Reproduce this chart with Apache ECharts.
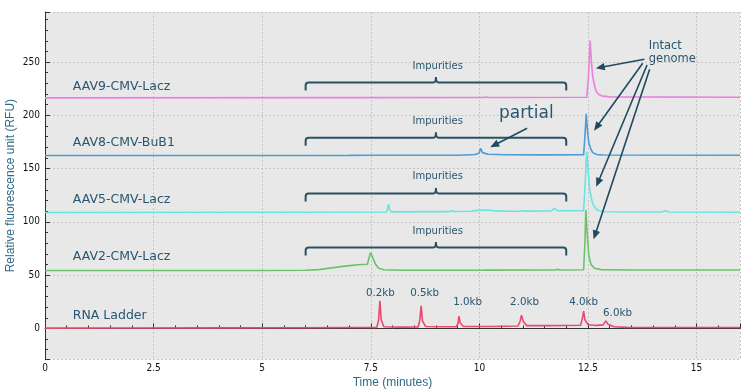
<!DOCTYPE html>
<html><head><meta charset="utf-8">
<script src="https://cdn.jsdelivr.net/npm/echarts@6/dist/echarts.min.js"></script>
<style>html,body{margin:0;padding:0;background:#fff}#c{width:750px;height:392px}</style>
</head><body><div id="c"></div>
<script>
// ---- data (time in minutes, RFU) ----
const seriesNames = ['AAV9-CMV-Lacz', 'AAV8-CMV-BuB1', 'AAV5-CMV-Lacz', 'AAV2-CMV-Lacz', 'RNA Ladder'];
const seriesColors = ['#ec7fe0', '#4f9bd2', '#66e5e2', '#6cc26b', '#e8496f'];

const aav9 = [[0,216.4],[7.2,216.6],[7.24,217.6],[7.28,216.6],[10.1,216.7],[10.15,217.3],[10.2,216.8],[12.47,217],[12.51,235],[12.55,270.3],[12.58,250],[12.61,236.5],[12.65,228],[12.69,222.4],[12.75,219.5],[12.81,218.3],[13,217.3],[16,217]];
const aav8 = [[0,162.3],[7.0,162.4],[7.43,162.5],[7.46,163.3],[7.49,162.5],[9.5,162.6],[9.9,163.2],[9.99,164.5],[10.03,169],[10.07,165],[10.2,163.5],[10.6,163],[11.5,162.9],[12.40,163],[12.43,180],[12.46,201.4],[12.49,185],[12.52,174],[12.57,168],[12.61,165],[12.7,163.3],[12.85,162.7],[16,162.6]];
const aav5 = [[0,108.8],[6,109],[7.86,109.2],[7.89,113],[7.91,116.7],[7.93,112],[7.97,109.4],[9.3,109.6],[9.36,110.5],[9.42,109.8],[9.8,110],[9.95,110.8],[10.16,111.2],[10.3,110.6],[10.6,110],[10.95,110],[11.0,110.6],[11.05,110.1],[11.65,110.3],[11.73,112.6],[11.8,110.6],[12.40,110.5],[12.44,140],[12.47,166],[12.50,150],[12.54,130],[12.6,118],[12.65,114],[12.72,111],[12.85,109.5],[14.2,109.2],[14.28,110.4],[14.36,109.3],[16,109.1]];
const aav2 = [[0,54.3],[5,54.4],[6,54.6],[6.3,55.2],[6.6,56.8],[6.9,58.5],[7.2,59.8],[7.42,60.2],[7.46,66],[7.49,71.1],[7.53,68],[7.6,61],[7.68,56.5],[7.8,55],[8.2,54.6],[10.05,54.6],[10.09,55.6],[10.13,54.7],[11.75,54.8],[11.8,55.5],[11.85,54.8],[12.40,55],[12.43,80],[12.45,111.2],[12.48,90],[12.52,68],[12.57,60],[12.65,56.5],[12.8,55.2],[13.5,54.8],[16,54.8]];
const ladder = [[0,0.3],[2,0.4],[4,0.5],[6,0.6],[7,0.8],[7.64,1.0],[7.68,8],[7.71,25.9],[7.74,8],[7.8,1.5],[8.2,1.2],[8.59,1.3],[8.63,8],[8.66,21.2],[8.69,7],[8.76,1.8],[9.2,1.5],[9.47,1.5],[9.51,5],[9.53,11.6],[9.56,5],[9.63,1.8],[10.3,1.8],[10.89,2.2],[10.94,7],[10.97,12.5],[11.01,6.5],[11.09,2.6],[11.6,2.6],[12.33,3],[12.37,9],[12.40,16.3],[12.43,8],[12.5,3.5],[12.7,2.8],[12.85,3.3],[12.91,7.1],[12.96,4],[13.1,1.5],[13.4,1.0],[14.5,0.8],[16,0.8]];
const seriesData = [aav9, aav8, aav5, aav2, ladder];

// annotation anchors (data coordinates)
const seriesLabelPos = [[0.64,227.1],[0.64,174.2],[0.64,120.6],[0.64,67.0],[0.64,11.6]];
const ladderLabels = ['0.2kb','0.5kb','1.0kb','2.0kb','4.0kb','6.0kb'];
const ladderLabelPos = [[7.72,33.2],[8.74,33.2],[9.73,24.8],[11.04,24.8],[12.40,24.8],[13.18,14.5]];
const bracketStart = 6, bracketEnd = 12, bracketMid = 9;
const bracketLevels = [230.9, 178.9, 126.7, 76.0];
const impurityTextLevels = [246.0, 194.4, 142.3, 90.6];
const impurityTextTime = 9.04;
const arrows = [
  [[13.80,252.6],[12.68,244.2]],
  [[13.76,248.9],[12.64,185.6]],
  [[13.86,247.2],[12.69,133.0]],
  [[13.92,243.2],[12.63,83.6]],
  [[11.10,187.9],[10.25,170.0]]
];
const noteTexts = ['Intact', 'genome', 'partial'];
const notePos = [[13.90,265.1],[13.90,253.2],[11.08,201.9]];

const xTickLabelFont = "'Liberation Sans Narrow','DejaVu Sans Condensed',sans-serif";
const textFont = "'DejaVu Sans',sans-serif";
const annColor = '#285670';
const arrowColor = '#1f4a5f';

const chart = echarts.init(document.getElementById('c'), null, {renderer: 'canvas'});

const lineSeries = seriesData.map((d, i) => ({
  type: 'line', name: seriesNames[i], data: d, showSymbol: false, symbol: 'none',
  lineStyle: {color: seriesColors[i], width: 1.6}, itemStyle: {color: seriesColors[i]},
  z: 3, silent: true
}));

const bracketSeries = {
  type: 'custom', silent: true, clip: false, z: 4,
  data: bracketLevels.map(v => [bracketStart, v, bracketEnd, bracketMid]),
  renderItem: (params, api) => {
    const v = api.value(1);
    const a = api.coord([api.value(0), v]);
    const b = api.coord([api.value(2), v]);
    const c = api.coord([api.value(3), v]);
    const y = a[1], r = 3, drop = 8, up = 5.5;
    const p = `M${a[0]},${y+drop} L${a[0]},${y+r} Q${a[0]},${y} ${a[0]+r},${y} L${c[0]-2.5},${y} Q${c[0]},${y} ${c[0]},${y-up} Q${c[0]},${y} ${c[0]+2.5},${y} L${b[0]-r},${y} Q${b[0]},${y} ${b[0]},${y+r} L${b[0]},${y+drop}`;
    return {type: 'path', shape: {pathData: p}, style: {stroke: '#2b4f63', lineWidth: 2, fill: null}};
  }
};

function textSeries(pos, getText, font, align) {
  return {
    type: 'custom', silent: true, clip: false, z: 5,
    data: pos,
    renderItem: (params, api) => {
      const p = api.coord([api.value(0), api.value(1)]);
      const f = font(params.dataIndex);
      return {type: 'text', x: p[0], y: p[1], style: {text: getText(params.dataIndex), fill: annColor,
        font: f, align: align, verticalAlign: 'middle'}};
    }
  };
}

const arrowSeries = {
  type: 'custom', silent: true, clip: false, z: 6,
  data: arrows.map(a => [a[0][0], a[0][1], a[1][0], a[1][1]]),
  renderItem: (params, api) => {
    const s = api.coord([api.value(0), api.value(1)]);
    const e = api.coord([api.value(2), api.value(3)]);
    const dx = e[0]-s[0], dy = e[1]-s[1], L = Math.sqrt(dx*dx+dy*dy);
    const ux = dx/L, uy = dy/L, hl = 9, hw = 3.8;
    const bx = e[0]-ux*hl, by = e[1]-uy*hl;
    return {type: 'group', children: [
      {type: 'line', shape: {x1: s[0], y1: s[1], x2: bx+ux*2, y2: by+uy*2}, style: {stroke: arrowColor, lineWidth: 1.6}},
      {type: 'polygon', shape: {points: [[e[0],e[1]],[bx-uy*hw,by+ux*hw],[bx+uy*hw,by-ux*hw]]}, style: {fill: arrowColor}}
    ]};
  }
};

const option = {
  animation: false,
  backgroundColor: '#ffffff',
  grid: {left: 45, right: 10, top: 12, bottom: 32.7, show: true, backgroundColor: '#e8e8e8', borderWidth: 0,
         outerBoundsMode: 'none', containLabel: false},
  xAxis: {
    type: 'value', min: 0, max: 16, interval: 2.5,
    name: 'Time (minutes)', nameLocation: 'middle', nameGap: 17, nameMoveOverlap: false,
    nameTextStyle: {color: '#2e6a88', fontSize: 12, fontFamily: "'Liberation Sans',Arial,sans-serif", verticalAlign: 'top'},
    axisLine: {show: true, lineStyle: {color: '#333', width: 1}},
    axisTick: {show: true, inside: true, length: 5, lineStyle: {color: '#333'}},
    minorTick: {show: true, splitNumber: 5, length: 3, lineStyle: {color: '#333'}},
    axisLabel: {color: '#111', fontSize: 10, fontFamily: xTickLabelFont, margin: 4, showMaxLabel: false},
    splitLine: {show: true, lineStyle: {color: '#c6c6c6', type: [2, 2], width: 1}}
  },
  yAxis: {
    type: 'value', min: -29, max: 297, splitNumber: 5,
    name: 'Relative fluorescence unit (RFU)', nameLocation: 'middle', nameGap: 28, nameMoveOverlap: false,
    nameTextStyle: {color: '#2e6a88', fontSize: 12, fontFamily: "'Liberation Sans',Arial,sans-serif"},
    axisLine: {show: true, lineStyle: {color: '#333', width: 1}},
    axisTick: {show: true, inside: true, length: 5, lineStyle: {color: '#333'}},
    minorTick: {show: true, splitNumber: 5, length: 3, lineStyle: {color: '#333'}},
    axisLabel: {color: '#111', fontSize: 10, fontFamily: xTickLabelFont, margin: 5, showMinLabel: false, showMaxLabel: false},
    splitLine: {show: true, lineStyle: {color: '#c6c6c6', type: [2, 2], width: 1}}
  },
  series: [
    ...lineSeries,
    bracketSeries,
    textSeries(seriesLabelPos, i => seriesNames[i], () => `12.5px ${textFont}`, 'left'),
    textSeries(ladderLabelPos, i => ladderLabels[i], () => `10.3px ${textFont}`, 'center'),
    textSeries(impurityTextLevels.map(v => [impurityTextTime, v]), () => 'Impurities', () => `10px ${textFont}`, 'center'),
    textSeries(notePos.slice(0, 2), i => noteTexts[i], () => `11.5px ${textFont}`, 'left'),
    textSeries(notePos.slice(2), () => noteTexts[2], () => `17px ${textFont}`, 'center'),
    arrowSeries
  ]
};
chart.setOption(option);
</script>
</body></html>
